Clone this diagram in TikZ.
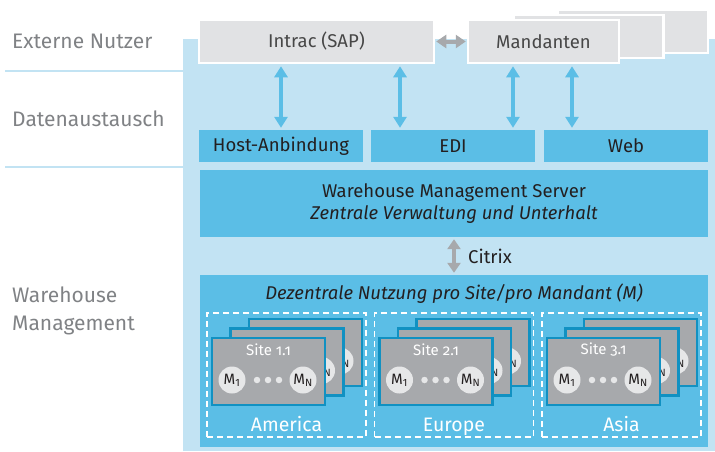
\documentclass[tikz,border=0pt]{standalone}
\usepackage{fontspec}
\setmainfont{Fira Sans}
\usetikzlibrary{arrows.meta}
\definecolor{bgblue}{HTML}{C2E3F3}
\definecolor{barblue}{HTML}{5BBEE6}
\definecolor{cardblue}{HTML}{1191C2}
\definecolor{cardgray}{HTML}{A7A9AC}
\definecolor{boxgray}{HTML}{E1E2E4}
\definecolor{lightgray}{HTML}{E6E7E8}
\definecolor{labelgray}{HTML}{808285}
\definecolor{textdark}{HTML}{231F20}

\begin{document}
\begin{tikzpicture}[x=1pt,y=-1pt,
  every node/.style={font=\fontsize{18.5}{22}\selectfont, text=textdark, inner sep=0pt},
  layer/.style={anchor=west, text=labelgray, align=left, font=\fontsize{21}{28}\selectfont},
  userbox/.style={fill=boxgray, draw=white, line width=2.5pt, minimum height=43pt, text=black!72},
  bar/.style={fill=barblue, minimum width=164pt, minimum height=32pt},
  wide/.style={fill=barblue, minimum width=508pt, align=center},
  regionbox/.style={draw=white, line width=1.4pt, dash pattern=on 6pt off 4pt, minimum width=159pt, minimum height=124pt},
  card/.style={fill=cardgray, draw=cardblue, line width=2.2pt, minimum width=113pt, minimum height=67pt},
  mcircle/.style={circle, fill=lightgray, minimum size=27pt, font=\fontsize{15}{17}\selectfont},
  mdot/.style={circle, fill=lightgray, minimum size=6.5pt},
  bluearrow/.style={draw=barblue, line width=4pt, {Triangle[width=13pt,length=11pt]}-{Triangle[width=13pt,length=11pt]}, shorten <=2pt, shorten >=2pt},
  grayarrow/.style={draw=cardgray, line width=4pt, {Triangle[width=13pt,length=10pt]}-{Triangle[width=13pt,length=10pt]}, shorten <=1pt, shorten >=1pt}]
  \useasboundingbox (0,0) rectangle (715,451);
  \fill[bgblue] (183,39) rectangle (715,451);
  \draw[bgblue, line width=2pt] (5,71) -- (183,71) (5,167) -- (183,167);

  \node[layer] (extern) at (12,41) {Externe Nutzer};
  \node[layer] (daten) at (12,119) {Datenaustausch};
  \node[layer] (wms) at (12,311) {Warehouse\\Management};

  \node[userbox, minimum width=150pt] (mand-3) at (633,31.5) {};
  \node[userbox, minimum width=150pt] (mand-2) at (588.5,36.5) {};
  \node[userbox, minimum width=151pt] (mand) at (543.5,41.5) {Mandanten};
  \node[userbox, minimum width=235pt] (intrac) at (316.5,41.5) {Intrac (SAP)};

  \node[bar] (host) at (281,146) {Host-Anbindung};
  \node[bar] (edi) at (453,146) {EDI};
  \node[bar] (web) at (626,146) {Web};
  \node[wide, minimum height=67pt] (server) at (454,203.5)
    {Warehouse Management Server\\\textit{Zentrale Verwaltung und Unterhalt}};
  \node[wide, minimum height=172pt] (dez) at (454,361) {};
  \node (dez-title) at (454,294) {\textit{Dezentrale Nutzung pro Site/pro Mandant (M)}};

  \draw[grayarrow] (intrac.east) -- (mand.west);
  \draw[bluearrow] (host.north |- intrac.south) -- (host.north);
  \draw[bluearrow] ([xshift=-53pt]edi.north |- intrac.south) -- ([xshift=-53pt]edi.north);
  \draw[bluearrow] ([xshift=60pt]edi.north |- mand.south) -- ([xshift=60pt]edi.north);
  \draw[bluearrow] ([xshift=-54pt]web.north |- mand.south) -- ([xshift=-54pt]web.north);
  \draw[grayarrow, shorten <=2pt, shorten >=2pt] (server.south) -- (dez.north);
  \node[anchor=west] (citrix) at (468,256) {Citrix};

  \foreach \nm [count=\i] in {America,Europe,Asia}{
    \pgfmathsetmacro\xx{207+(\i-1)*167.5}
    \node[regionbox] (reg-\i) at (\xx+79.5,375) {};
    \foreach \k in {2,1,0}{
      \node[card] (site-\i-\k) at (\xx+61.5+18.5*\k,371.5-9.5*\k) {};
      \node[mcircle] (mn-\i-\k) at ([xshift=34.5pt,yshift=-8.5pt]site-\i-\k.center) {M\textsubscript{N}};
    }
    \node[mcircle] (m1-\i) at ([xshift=-36.5pt,yshift=-8.5pt]site-\i-0.center) {M\textsubscript{1}};
    \foreach \d [count=\j] in {-11.5,-0.5,10.5}
      \node[mdot] (dot-\i-\j) at ([xshift=\d pt,yshift=-8.5pt]site-\i-0.center) {};
    \node[text=white, font=\fontsize{15}{17}\selectfont\addfontfeatures{Numbers=OldStyle}] (site-lab-\i)
      at ([yshift=21.5pt]site-\i-0.center) {Site \i.1};
    \node[anchor=base, text=white, font=\fontsize{19.5}{22}\selectfont] (reg-lab-\i) at (\xx+79.5,431) {\nm};
  }
\end{tikzpicture}
\end{document}
